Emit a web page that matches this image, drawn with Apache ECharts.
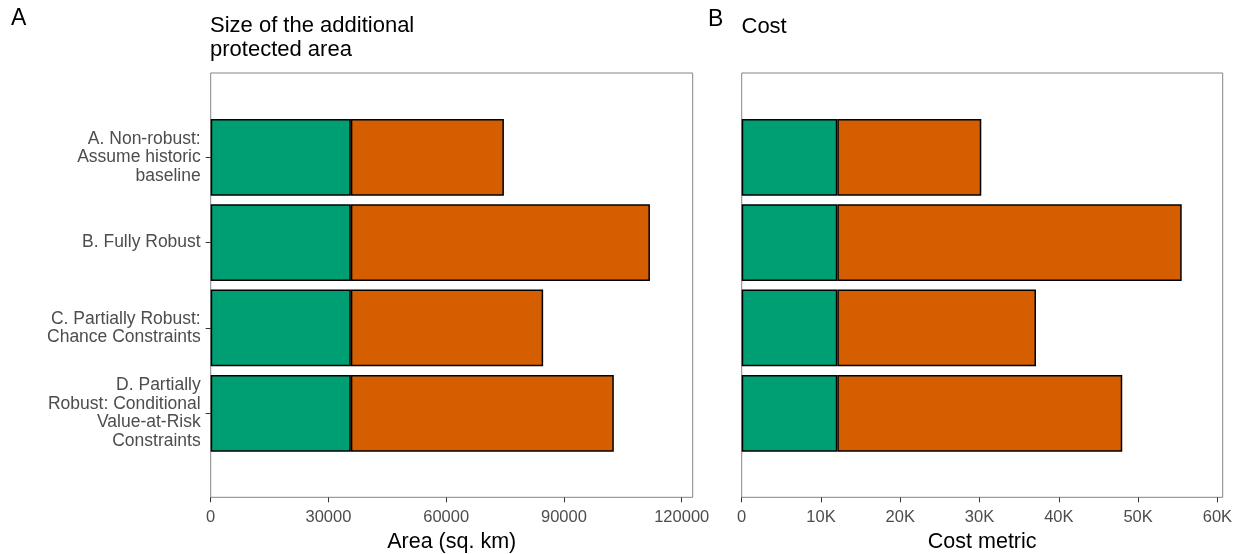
<!DOCTYPE html>
<html>
<head>
<meta charset="utf-8">
<script src="https://cdn.jsdelivr.net/npm/echarts@6/dist/echarts.min.js"></script>
<style>
html,body{margin:0;padding:0;background:#fff;}
#chart{width:1244px;height:554px;}
</style>
</head>
<body>
<div id="chart"></div>
<script>
const categories = [
  "A. Non-robust:\nAssume historic\nbaseline",
  "B. Fully Robust",
  "C. Partially Robust:\nChance Constraints",
  "D. Partially\nRobust: Conditional\nValue-at-Risk\nConstraints"
];
const areaBase = [35700, 35700, 35700, 35700];
const areaAdditional = [39000, 76200, 49000, 67000];
const costBase = [12060, 12060, 12060, 12060];
const costAdditional = [18160, 43440, 25060, 35940];
const areaTicks = [0, 30000, 60000, 90000, 120000];
const costTicks = [0, 10000, 20000, 30000, 40000, 50000, 60000];

const FONT = "'Liberation Sans', Arial, sans-serif";
const GREEN = '#009E73', ORANGE = '#D55E00';
const FRAME = '#858585', TICK = '#333333', LABEL = '#4d4d4d';

const chart = echarts.init(document.getElementById('chart'), null, {renderer: 'canvas'});

function frameGrid(left, width) {
  return {left: left, top: 73, width: width, height: 424.3, show: true,
    borderColor: FRAME, borderWidth: 1, backgroundColor: '#fff', outerBoundsMode: 'none', containLabel: false};
}
function barGrid(left, width) {
  return {left: left, top: 114.65, width: width, height: 341.3, show: false, outerBoundsMode: 'none', containLabel: false};
}
function visibleX(gi, max, ticks, name, fmt) {
  return {
    type: 'value', gridIndex: gi, min: 0, max: max, position: 'bottom',
    name: name, nameLocation: 'middle', nameGap: 32,
    nameTextStyle: {fontFamily: FONT, fontSize: 21.5, color: '#000'},
    axisLine: {show: false},
    axisTick: {show: true, length: 5, lineStyle: {color: TICK, width: 1}, customValues: ticks},
    axisLabel: {show: true, margin: 12, fontFamily: FONT, fontSize: 16.5, color: LABEL, customValues: ticks, formatter: fmt},
    splitLine: {show: false}
  };
}
function hiddenX(gi, max) {
  return {type: 'value', gridIndex: gi, min: 0, max: max, show: false, splitLine: {show: false}};
}

const option = {
  animation: false,
  backgroundColor: '#fff',
  textStyle: {fontFamily: FONT},
  title: [
    {text: 'A', left: 11, top: 7, padding: 0, textStyle: {fontFamily: FONT, fontSize: 23, fontWeight: 'normal', color: '#000', lineHeight: 23}},
    {text: 'Size of the additional\nprotected area', left: 210, top: 14.5, padding: 0,
      textStyle: {fontFamily: FONT, fontSize: 22, fontWeight: 'normal', color: '#000', lineHeight: 23.5}},
    {text: 'B', left: 708, top: 8, padding: 0, textStyle: {fontFamily: FONT, fontSize: 23, fontWeight: 'normal', color: '#000', lineHeight: 23}},
    {text: 'Cost', left: 741.5, top: 15, padding: 0, textStyle: {fontFamily: FONT, fontSize: 22, fontWeight: 'normal', color: '#000', lineHeight: 23.5}}
  ],
  grid: [
    frameGrid(210.7, 482),
    barGrid(210.7, 482),
    frameGrid(741.7, 481),
    barGrid(741.7, 481)
  ],
  xAxis: [
    visibleX(0, 122800, areaTicks, 'Area (sq. km)', v => String(v)),
    hiddenX(1, 122800),
    visibleX(2, 60670, costTicks, 'Cost metric', v => v === 0 ? '0' : (v / 1000) + 'K'),
    hiddenX(3, 60670)
  ],
  yAxis: [
    {type: 'value', gridIndex: 0, show: false, splitLine: {show: false}},
    {type: 'category', gridIndex: 1, data: categories, inverse: true,
      axisLine: {show: false},
      axisTick: {show: true, alignWithLabel: true, length: 5, lineStyle: {color: TICK, width: 1}},
      axisLabel: {show: true, margin: 10, fontFamily: FONT, fontSize: 17.5, lineHeight: 18.5, color: LABEL, align: 'right', padding: [8, 0, 0, 0]},
      splitLine: {show: false}},
    {type: 'value', gridIndex: 2, show: false, splitLine: {show: false}},
    {type: 'category', gridIndex: 3, data: categories, inverse: true,
      axisLine: {show: false}, axisTick: {show: false}, axisLabel: {show: false}, splitLine: {show: false}}
  ],
  series: [
    {type: 'bar', xAxisIndex: 1, yAxisIndex: 1, stack: 'area', data: areaBase, barWidth: '90%',
      itemStyle: {color: GREEN, borderColor: '#000', borderWidth: 1.5}},
    {type: 'bar', xAxisIndex: 1, yAxisIndex: 1, stack: 'area', data: areaAdditional, barWidth: '90%',
      itemStyle: {color: ORANGE, borderColor: '#000', borderWidth: 1.5}},
    {type: 'bar', xAxisIndex: 3, yAxisIndex: 3, stack: 'cost', data: costBase, barWidth: '90%',
      itemStyle: {color: GREEN, borderColor: '#000', borderWidth: 1.5}},
    {type: 'bar', xAxisIndex: 3, yAxisIndex: 3, stack: 'cost', data: costAdditional, barWidth: '90%',
      itemStyle: {color: ORANGE, borderColor: '#000', borderWidth: 1.5}}
  ]
};
chart.setOption(option);
</script>
</body>
</html>
